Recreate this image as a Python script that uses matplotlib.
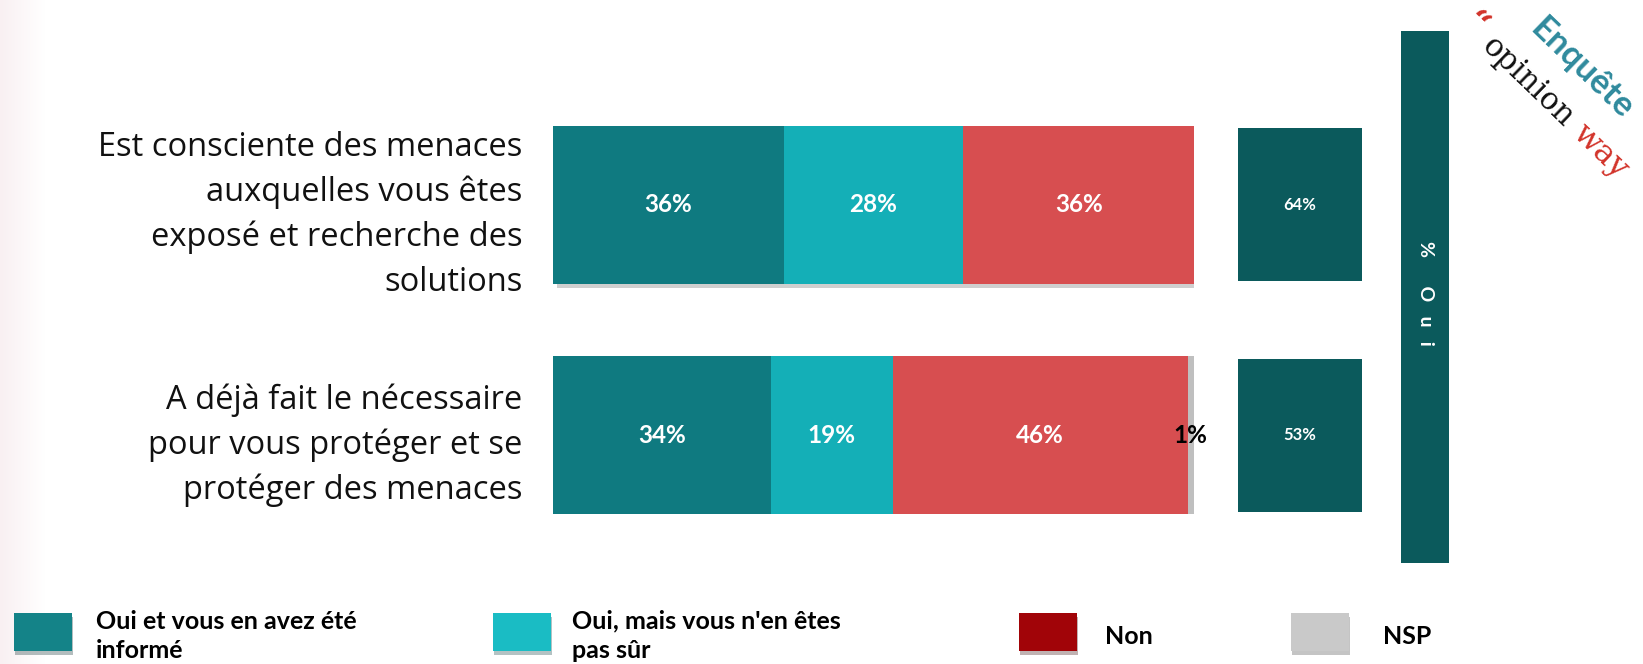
import numpy as np
import matplotlib
matplotlib.use("Agg")
import matplotlib.pyplot as plt
import matplotlib.patheffects as pe
from matplotlib.patches import Rectangle

# Data
categories = [
    "Est consciente des menaces\nauxquelles vous êtes\nexposé et recherche des\nsolutions",
    "A déjà fait le nécessaire\npour vous protéger et se\nprotéger des menaces",
]
series_names = ["Oui et vous en avez été\ninformé", "Oui, mais vous n'en êtes\npas sûr", "Non", "NSP"]
informe = [36, 34]
pas_sur = [28, 19]
non = [36, 46]
nsp = [0, 1]
oui_total = [64, 53]

bar_colors = ["#0F7A80", "#14AFB7", "#D74E50", "#BFBFBF"]
legend_colors = ["#148388", "#1ABCC4", "#A10408", "#C9C9C9"]
label_colors = ["white", "white", "white", "black"]
dark_teal = "#0B5A5C"

W, H = 1643, 664
fig = plt.figure(figsize=(W / 100, H / 100), dpi=100)


def px_rect(x0, y0, x1, y1):
    return [x0 / W, 1 - y1 / H, (x1 - x0) / W, (y1 - y0) / H]


# faint pink strip on the left edge
bg = fig.add_axes([0, 0, 45 / W, 1], zorder=-5)
grad = np.linspace(0, 1, 64).reshape(1, -1)
bg.imshow(grad, aspect="auto", cmap=matplotlib.colors.LinearSegmentedColormap.from_list(
    "p", ["#F9F0F2", "#FFFFFF"]), extent=[0, 1, 0, 1])
bg.axis("off")

bar_h = 0.684
pad = bar_h / 2
y = np.arange(len(categories))

# stacked bars
ax = fig.add_axes(px_rect(553, 126, 1194, 514))
values = [informe, pas_sur, non, nsp]
left = np.zeros(len(categories))
shadow = [pe.SimplePatchShadow(offset=(3, -3), shadow_rgbFace="#888888", alpha=0.4), pe.Normal()]
for vals, col, lcol in zip(values, bar_colors, label_colors):
    vals = np.array(vals, dtype=float)
    bars = ax.barh(y, vals, left=left, height=bar_h, color=col, linewidth=0)
    for b in bars:
        b.set_path_effects(shadow)
    for yi, v, l0 in zip(y, vals, left):
        if v > 0:
            ax.text(l0 + v / 2, yi, f"{v:.0f}%", ha="center", va="center", color=lcol,
                    fontsize=17.5, fontweight="bold", family="Lato")
    left += vals
ax.set_xlim(0, 100)
ax.set_ylim(len(categories) - 1 + pad, -pad)
ax.set_yticks(y)
ax.set_yticklabels(categories, fontsize=23.5, family="Open Sans", color="#111111",
                   linespacing=1.46)
ax.tick_params(axis="y", length=0, pad=22)
ax.tick_params(axis="x", bottom=False, labelbottom=False)
for s in ax.spines.values():
    s.set_visible(False)
ax.patch.set_alpha(0)

# % Oui boxes
ax2 = fig.add_axes(px_rect(1238, 126, 1362, 514))
ax2.barh(y, [1] * len(y), height=0.664, color=dark_teal, linewidth=0)
for yi, v in zip(y, oui_total):
    ax2.text(0.5, yi, f"{v}%", ha="center", va="center", color="white",
             fontsize=12, fontweight="bold", family="Lato")
ax2.set_xlim(0, 1)
ax2.set_ylim(len(categories) - 1 + pad, -pad)
ax2.axis("off")

# vertical header bar
ax3 = fig.add_axes(px_rect(1401, 31, 1449, 563))
ax3.set_facecolor(dark_teal)
ax3.set_xticks([])
ax3.set_yticks([])
for s in ax3.spines.values():
    s.set_visible(False)
fig.text(1426 / W, 1 - 293 / H, "%      O   u   i", rotation=-90, ha="center", va="center",
         color="white", fontsize=14, fontweight="bold", family="Lato")

# logo
fig.text(1582 / W, 1 - 68 / H, "Enquête", rotation=-44, ha="center", va="center",
         color="#2F8A9D", fontsize=25, fontweight="bold", family="Lato",
         rotation_mode="anchor")
fig.text(1476 / W, 1 - 24 / H, "\u201c", rotation=-44, ha="center", va="center",
         color="#D2332A", fontsize=24, fontweight="bold", family="DejaVu Serif",
         rotation_mode="anchor")
fig.text(1528 / W, 1 - 82 / H, "opinion", rotation=-44, ha="center", va="center",
         color="#111111", fontsize=22, family="DejaVu Serif", rotation_mode="anchor")
fig.text(1601 / W, 1 - 151 / H, "way", rotation=-44, ha="center", va="center",
         color="#D2332A", fontsize=23, family="DejaVu Serif", rotation_mode="anchor")

# legend
sq_x = [14, 493, 1019, 1291]
txt_x = [96, 572, 1105, 1383]
for name, col, sx, tx in zip(series_names, legend_colors, sq_x, txt_x):
    r = Rectangle((sx / W, 1 - 651 / H), 58 / W, 38 / H, transform=fig.transFigure,
                  facecolor=col, edgecolor="none",
                  path_effects=[pe.SimplePatchShadow(offset=(1, -3), alpha=0.3), pe.Normal()])
    fig.add_artist(r)
    fig.text(tx / W, 1 - 636 / H, name, ha="left", va="center", fontsize=18,
             fontweight="bold", family="Lato", color="black", linespacing=1.35)

fig.savefig("out.png", dpi=100)
